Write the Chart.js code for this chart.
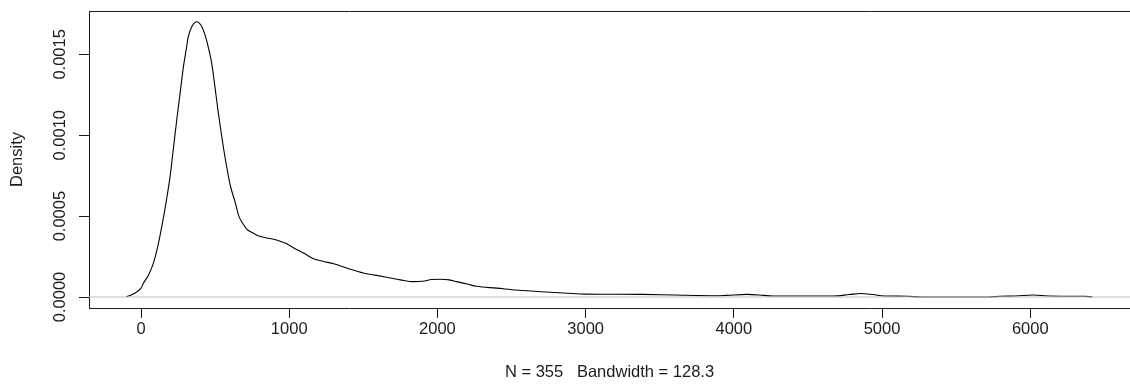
<!DOCTYPE html>
<html>
<head>
<meta charset="utf-8">
<script src="https://cdn.jsdelivr.net/npm/chart.js@4/dist/chart.umd.min.js"></script>
<style>
  html, body { margin: 0; padding: 0; background: #ffffff; overflow: hidden; }
  #wrap { width: 1130px; height: 392px; }
</style>
</head>
<body>
<div id="wrap"><canvas id="c" width="1130" height="392"></canvas></div>
<script>
// ---- data ----
const densX = [-100, -86, -50, 0, 16, 50, 83, 110, 140, 170, 196, 220, 241, 265, 286, 305, 319, 345, 376, 405, 432, 455, 477, 500, 522, 550, 578, 605, 634, 660, 690, 713, 758, 800, 848, 900, 938, 980, 1028, 1100, 1163, 1230, 1300, 1400, 1500, 1580, 1658, 1750, 1837, 1900, 1960, 2020, 2080, 2130, 2200, 2265, 2400, 2533, 2700, 2879, 3000, 3200, 3381, 3600, 3884, 3950, 4088, 4200, 4260, 4500, 4669, 4780, 4858, 4940, 5014, 5171, 5260, 5400, 5600, 5720, 5800, 5900, 6019, 6120, 6250, 6363, 6420];
const densY = [0.000002, 0.000006, 0.000020, 0.000055, 0.000085, 0.000135, 0.000208, 0.000300, 0.000435, 0.000590, 0.000744, 0.000930, 0.001094, 0.001270, 0.001423, 0.001530, 0.001609, 0.001675, 0.001702, 0.001680, 0.001619, 0.001540, 0.001444, 0.001290, 0.001135, 0.000960, 0.000805, 0.000680, 0.000590, 0.000500, 0.000450, 0.000420, 0.000394, 0.000375, 0.000365, 0.000355, 0.000345, 0.000330, 0.000305, 0.000270, 0.000237, 0.000220, 0.000206, 0.000175, 0.000148, 0.000135, 0.000122, 0.000106, 0.000095, 0.000097, 0.000108, 0.000110, 0.000106, 0.000095, 0.000080, 0.000066, 0.000055, 0.000043, 0.000032, 0.000023, 0.000018, 0.000017, 0.000016, 0.000012, 0.000008, 0.000010, 0.000016, 0.000010, 0.000006, 0.000006, 0.000006, 0.000015, 0.000022, 0.000015, 0.000006, 0.000005, 0, 0, 0, 0, 0.000005, 0.000006, 0.000012, 0.000006, 0.000005, 0.000005, 0];
const xTicks = [0, 1000, 2000, 3000, 4000, 5000, 6000];
const xTickLabels = ['0', '1000', '2000', '3000', '4000', '5000', '6000'];
const yTicks = [0, 0.0005, 0.0010, 0.0015];
const yTickLabels = ['0.0000', '0.0005', '0.0010', '0.0015'];
const xRange = [-351, 6673];
const yRange = [-0.000068, 0.001768];
const xTitle = 'N = 355   Bandwidth = 128.3';
const yTitle = 'Density';

// ---- chart ----
const FONT = { family: '"Liberation Sans", Arial, sans-serif', size: 16.5 };
const INK = '#1c1c1c';

// top edge of the plot box (left and bottom edges are the axis borders; the right edge lies outside the picture)
const boxPlugin = {
  id: 'box',
  afterDraw(chart) {
    const { ctx, chartArea: a } = chart;
    ctx.save();
    ctx.strokeStyle = INK;
    ctx.lineWidth = 1;
    ctx.beginPath();
    ctx.moveTo(Math.round(a.left), Math.round(a.top) + 0.5);
    ctx.lineTo(a.right + 2, Math.round(a.top) + 0.5);
    ctx.stroke();
    ctx.restore();
  }
};

new Chart(document.getElementById('c'), {
  type: 'line',
  data: {
    datasets: [
      {
        label: 'zero',
        data: [{ x: xRange[0], y: 0 }, { x: xRange[1], y: 0 }],
        borderColor: '#bfbfbf',
        borderWidth: 1,
        pointRadius: 0,
        order: 0
      },
      {
        label: 'density',
        data: densX.map((x, i) => ({ x: x, y: densY[i] })),
        borderColor: '#000000',
        borderWidth: 1.1,
        pointRadius: 0,
        cubicInterpolationMode: 'monotone',
        order: 1
      }
    ]
  },
  options: {
    responsive: false,
    animation: false,
    layout: { padding: { top: 11, right: 0, bottom: 0, left: 0 } },
    plugins: { legend: { display: false }, tooltip: { enabled: false } },
    scales: {
      x: {
        type: 'linear',
        min: xRange[0],
        max: xRange[1],
        afterBuildTicks: s => { s.ticks = xTicks.map(v => ({ value: v })); },
        afterFit: s => { s.height = 84; },
        ticks: {
          autoSkip: false, maxRotation: 0, minRotation: 0,
          padding: 2, color: INK, font: FONT,
          callback: (v, i) => xTickLabels[i]
        },
        grid: { drawOnChartArea: false, drawTicks: true, tickLength: 10, tickColor: INK, tickWidth: 1 },
        border: { display: true, color: INK, width: 1 },
        title: { display: true, text: xTitle, color: INK, font: FONT, padding: { top: 0, bottom: 10 } }
      },
      y: {
        type: 'linear',
        min: yRange[0],
        max: yRange[1],
        afterBuildTicks: s => { s.ticks = yTicks.map(v => ({ value: v })); },
        afterFit: s => { s.width = 89; },
        ticks: {
          autoSkip: false, minRotation: 90, maxRotation: 90,
          crossAlign: 'center', padding: -7,
          color: INK, font: FONT,
          callback: (v, i) => yTickLabels[i]
        },
        grid: { drawOnChartArea: false, drawTicks: true, tickLength: 10, tickColor: INK, tickWidth: 1 },
        border: { display: true, color: INK, width: 1 },
        title: { display: true, text: yTitle, color: INK, font: FONT, padding: { top: 8, bottom: 0 } }
      }
    }
  },
  plugins: [boxPlugin]
});
</script>
</body>
</html>
